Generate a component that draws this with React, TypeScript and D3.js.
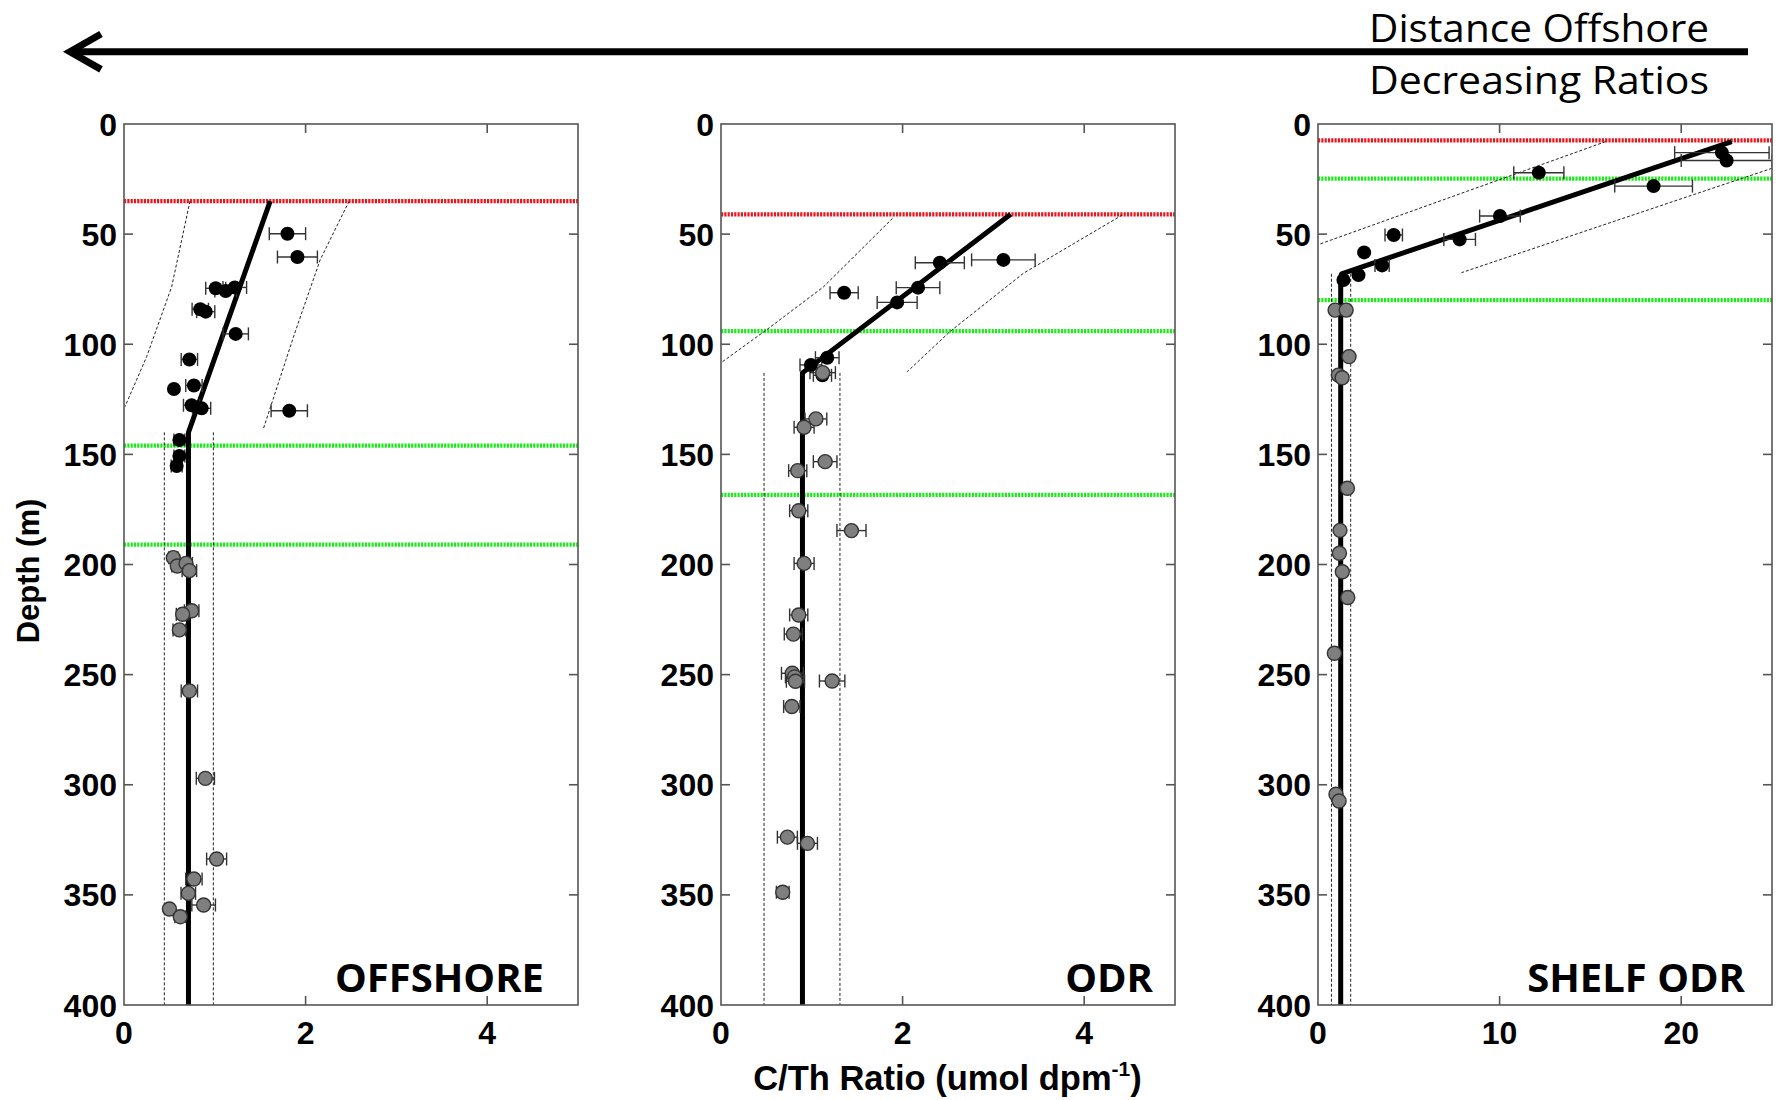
import React from "react";
import * as d3 from "d3";

// ---------- DATA ----------
// [ratio, depth, error]
const offshoreUpper: number[][] = [
  [1.8, 49.8, 0.2], [1.91, 60.4, 0.22], [1.01, 74.6, 0.11], [1.12, 75.8, 0.12], [1.22, 74.2, 0.13],
  [0.84, 84.1, 0.09], [0.9, 85.2, 0.1], [1.23, 95.3, 0.14], [0.72, 106.9, 0.09], [0.55, 120.3, 0],
  [0.77, 118.7, 0.09], [0.745, 127.7, 0.09], [0.855, 129.1, 0.1], [1.82, 130.2, 0.2],
  [0.61, 143.5, 0.06], [0.61, 150.7, 0.06], [0.58, 155.3, 0.06],
];
const offshoreLower: number[][] = [
  [0.543, 196.9, 0.05], [0.587, 200.7, 0.06], [0.683, 199.5, 0.07], [0.72, 202.8, 0.08],
  [0.745, 221, 0.08], [0.646, 222.6, 0.07], [0.61, 229.7, 0.07], [0.72, 257.4, 0.09],
  [0.896, 297.1, 0.1], [1.02, 333.7, 0.11], [0.77, 342.8, 0.09], [0.708, 349.3, 0.08],
  [0.877, 354.6, 0.13], [0.5, 356.4, 0], [0.62, 359.9, 0.06],
];
const odrUpper: number[][] = [
  [1.356, 76.6, 0.155], [2.41, 63.0, 0.27], [3.11, 61.7, 0.35], [2.17, 74.3, 0.24],
  [1.94, 81.0, 0.22], [1.17, 106.1, 0.13], [0.99, 109.4, 0.12], [1.117, 114.1, 0.1],
];
const odrLower: number[][] = [
  [1.12, 112.9, 0.14], [1.045, 133.9, 0.12], [0.915, 137.7, 0.11], [1.147, 153.3, 0.13],
  [0.845, 157.4, 0.1], [0.856, 175.6, 0.1], [1.437, 184.6, 0.16], [0.915, 199.5, 0.11],
  [0.856, 222.9, 0.1], [0.797, 231.6, 0.1], [0.786, 249.4, 0.12], [0.81, 251, 0.1],
  [0.82, 253, 0.1], [1.224, 252.9, 0.14], [0.78, 264.5, 0.09], [0.731, 323.8, 0.11],
  [0.952, 326.6, 0.11], [0.68, 348.8, 0.07],
];
const shelfUpper: number[][] = [
  [22.24, 13.0, 2.6], [22.5, 16.6, 2.5], [12.16, 22.1, 1.38], [18.48, 28.2, 2.14],
  [10.02, 41.8, 1.12], [4.17, 50.4, 0.48], [7.8, 52.4, 0.87], [2.54, 58.3, 0],
  [3.53, 64.2, 0.39], [2.23, 68.6, 0], [1.4, 70.8, 0],
];
const shelfLower: number[][] = [
  [0.94, 84.5, 0], [1.55, 84.5, 0], [1.71, 105.6, 0], [1.12, 114, 0], [1.33, 115.2, 0],
  [1.62, 165.4, 0], [1.21, 184.5, 0], [1.18, 194.9, 0], [1.34, 203.3, 0], [1.64, 215, 0],
  [0.9, 240.3, 0], [0.99, 304.3, 0], [1.16, 307.4, 0],
];

// fit lines [ratio, depth]
const offshoreFit = [[1.61, 35], [0.71, 140], [0.71, 400]];
const offshoreCiLeft = [[0.727, 35], [0.525, 73.9], [0.25, 105.6], [0.01, 128.4]];
const offshoreCiRight = [[2.48, 35], [2.16, 61.7], [1.88, 95], [1.53, 139]];
const offshoreCiVert = [0.444, 0.984];
const offshoreCiVertTop = 140;

const odrFit = [[3.19, 41], [0.897, 113], [0.897, 400]];
const odrCiLeft = [[1.89, 42.8], [1.13, 73.9], [0.5, 93.5], [0, 108.4]];
const odrCiRight = [[4.42, 41.3], [3.33, 67.8], [2.52, 94.3], [2.05, 112.5]];
const odrCiVert = [0.474, 1.31];
const odrCiVertTop = 113;

const shelfFit = [[22.78, 8], [1.3, 68], [1.25, 70], [1.25, 400]];
const shelfCiLeft = [[15.84, 8], [0.07, 54.6]];
const shelfCiRight = [[25, 20.1], [7.9, 67.5]];
const shelfCiVert = [0.74, 1.8];
const shelfCiVertTop = 68;

// horizon depths: [red, green, green]
const offshoreHorizons = [35, 146, 191];
const odrHorizons = [41, 94, 168.4];
const shelfHorizons = [7.4, 24.8, 80];

const panelNames = ["OFFSHORE", "ODR", "SHELF ODR"];
const depthTicks = [0, 50, 100, 150, 200, 250, 300, 350, 400];
const ratioTicksSmall = [0, 2, 4];
const ratioTicksShelf = [0, 10, 20];

// ---------- LAYOUT ----------
const W = 1780, H = 1100;
const panelTop = 124, panelH = 881, panelW = 454;
const panelLefts = [124, 721, 1318];
const titleRight = [544, 1153, 1745];

const panels = [
  { name: panelNames[0], xmax: 5, ticks: ratioTicksSmall, upper: offshoreUpper, lower: offshoreLower,
    fit: offshoreFit, ciL: offshoreCiLeft, ciR: offshoreCiRight, ciV: offshoreCiVert, ciVTop: offshoreCiVertTop, hz: offshoreHorizons },
  { name: panelNames[1], xmax: 5, ticks: ratioTicksSmall, upper: odrUpper, lower: odrLower,
    fit: odrFit, ciL: odrCiLeft, ciR: odrCiRight, ciV: odrCiVert, ciVTop: odrCiVertTop, hz: odrHorizons },
  { name: panelNames[2], xmax: 25, ticks: ratioTicksShelf, upper: shelfUpper, lower: shelfLower,
    fit: shelfFit, ciL: shelfCiLeft, ciR: shelfCiRight, ciV: shelfCiVert, ciVTop: shelfCiVertTop, hz: shelfHorizons },
];

const tickFont = "'Liberation Sans', Arial, sans-serif";
const calibri = "'Open Sans', 'Noto Sans', sans-serif";

function Panel({ p, i }: { p: any; i: number }) {
  const x0 = panelLefts[i];
  const x = d3.scaleLinear().domain([0, p.xmax]).range([x0, x0 + panelW]);
  const y = d3.scaleLinear().domain([0, 400]).range([panelTop, panelTop + panelH]);
  const line = d3.line<number[]>().x((d) => x(d[0])).y((d) => y(d[1]));
  const clipId = `clip${i}`;
  const tickLen = 9;
  const axisColor = "#555";
  const errCap = 6.5;
  const r = 7;

  const errorBars = (pts: number[][]) =>
    pts.filter((d) => d[2] > 0).map((d, k) => {
      const yy = y(d[1]);
      const xl = x(d[0] - d[2]);
      const xr = x(d[0] + d[2]);
      return (
        <g key={k} stroke="#333" strokeWidth={1.4}>
          <line x1={xl} x2={xr} y1={yy} y2={yy} />
          <line x1={xl} x2={xl} y1={yy - errCap} y2={yy + errCap} />
          <line x1={xr} x2={xr} y1={yy - errCap} y2={yy + errCap} />
        </g>
      );
    });

  return (
    <g>
      <defs>
        <clipPath id={clipId}>
          <rect x={x0} y={panelTop} width={panelW} height={panelH} />
        </clipPath>
      </defs>
      <rect x={x0} y={panelTop} width={panelW} height={panelH} fill="#fff" />
      <g clipPath={`url(#${clipId})`}>
        {p.hz.map((d: number, k: number) => (
          <line key={k} x1={x0} x2={x0 + panelW} y1={y(d)} y2={y(d)}
            stroke={k === 0 ? "#e8161e" : "#1fe81f"} strokeWidth={4.2} strokeDasharray="2.2,1.1" />
        ))}
        <path d={line(p.ciL) || ""} fill="none" stroke="#222" strokeWidth={1} strokeDasharray="3,2" />
        <path d={line(p.ciR) || ""} fill="none" stroke="#222" strokeWidth={1} strokeDasharray="3,2" />
        {p.ciV.map((v: number, k: number) => (
          <line key={k} x1={x(v)} x2={x(v)} y1={y(p.ciVTop)} y2={y(400)} stroke="#222" strokeWidth={1} strokeDasharray="3,2" />
        ))}
        <path d={line(p.fit) || ""} fill="none" stroke="#000" strokeWidth={5} strokeLinejoin="round" />
        {errorBars(p.upper)}
        {errorBars(p.lower)}
        {p.upper.map((d: number[], k: number) => (
          <circle key={"u" + k} cx={x(d[0])} cy={y(d[1])} r={r} fill="#000" />
        ))}
        {p.lower.map((d: number[], k: number) => (
          <circle key={"l" + k} cx={x(d[0])} cy={y(d[1])} r={r} fill="#7f7f7f" stroke="#333" strokeWidth={1.4} />
        ))}
      </g>
      <rect x={x0} y={panelTop} width={panelW} height={panelH} fill="none" stroke={axisColor} strokeWidth={1.6} />
      {depthTicks.map((t) => (
        <g key={"yt" + t}>
          {t > 0 && t < 400 && (
            <>
              <line x1={x0} x2={x0 + tickLen} y1={y(t)} y2={y(t)} stroke={axisColor} strokeWidth={1.6} />
              <line x1={x0 + panelW - tickLen} x2={x0 + panelW} y1={y(t)} y2={y(t)} stroke={axisColor} strokeWidth={1.6} />
            </>
          )}
          <text x={x0 - 7} y={y(t) + 11.5} textAnchor="end" fontFamily={tickFont} fontWeight="bold" fontSize={32} fill="#000">
            {t}
          </text>
        </g>
      ))}
      {p.ticks.map((t: number) => (
        <g key={"xt" + t}>
          {t > 0 && (
            <>
              <line x1={x(t)} x2={x(t)} y1={panelTop} y2={panelTop + tickLen} stroke={axisColor} strokeWidth={1.6} />
              <line x1={x(t)} x2={x(t)} y1={panelTop + panelH - tickLen} y2={panelTop + panelH} stroke={axisColor} strokeWidth={1.6} />
            </>
          )}
          <text x={x(t)} y={1044} textAnchor="middle" fontFamily={tickFont} fontWeight="bold" fontSize={32} fill="#000">
            {t}
          </text>
        </g>
      ))}
      <text x={titleRight[i]} y={992} textAnchor="end" fontFamily={calibri} fontWeight="bold" fontSize={40} fill="#000">
        {p.name}
      </text>
    </g>
  );
}

export default function App() {
  return (
    <svg width={W} height={H} viewBox={`0 0 ${W} ${H}`} style={{ position: "absolute", left: 0, top: 0, background: "#fff" }}>
      <rect x={0} y={0} width={W} height={H} fill="#fff" />
      <line x1={1748} x2={72} y1={51.7} y2={51.7} stroke="#000" strokeWidth={7} />
      <path d="M 101 34 L 70 51.7 L 101 69.4" fill="none" stroke="#000" strokeWidth={7} strokeLinejoin="miter" />
      <text x={1369} y={42} fontFamily={calibri} fontSize={38.5} textLength={340} lengthAdjust="spacingAndGlyphs" fill="#000">Distance Offshore</text>
      <text x={1369} y={93.5} fontFamily={calibri} fontSize={38.5} textLength={340} lengthAdjust="spacingAndGlyphs" fill="#000">Decreasing Ratios</text>

      {panels.map((p, i) => (
        <Panel key={i} p={p} i={i} />
      ))}

      <text transform="translate(39,571) rotate(-90)" textAnchor="middle" fontFamily={tickFont} fontWeight="bold" fontSize={31} fill="#000">
        Depth (m)
      </text>
      <text x={947.5} y={1090} textAnchor="middle" fontFamily={tickFont} fontWeight="bold" fontSize={34.5} fill="#000">
        C/Th Ratio (umol dpm<tspan dy={-14} fontSize={21}>-1</tspan><tspan dy={14}>)</tspan>
      </text>
    </svg>
  );
}
